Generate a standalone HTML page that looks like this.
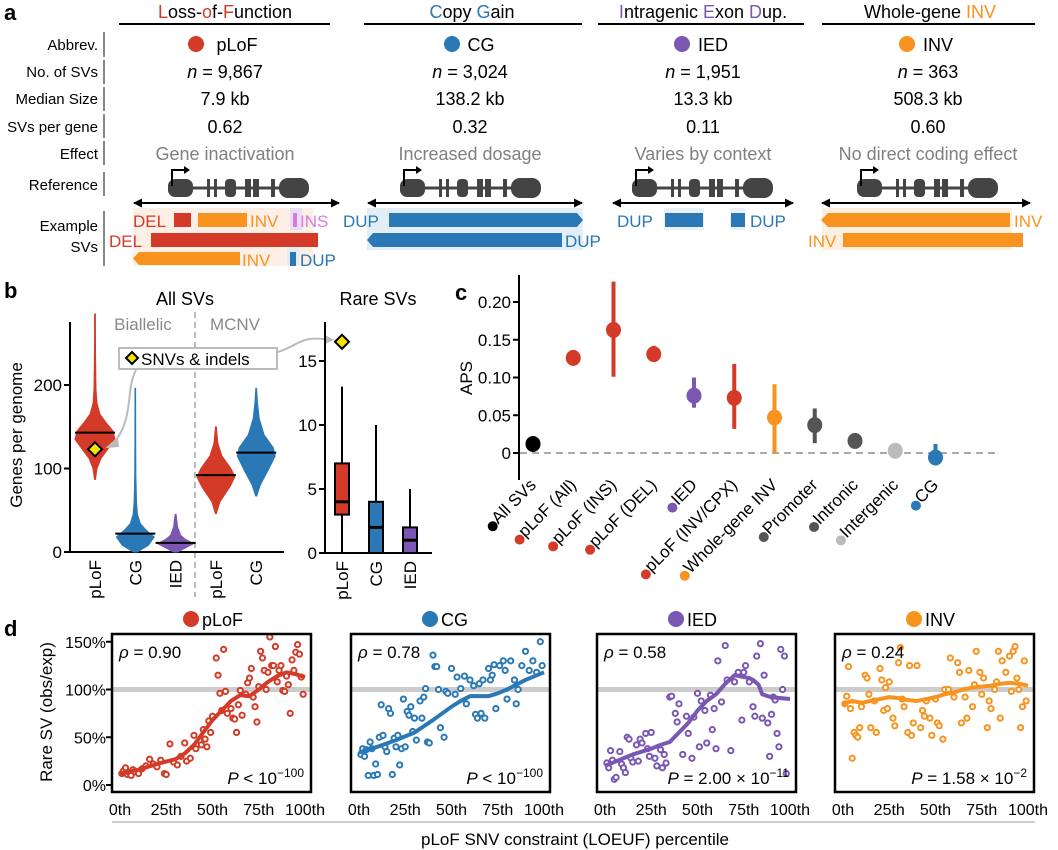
<!DOCTYPE html>
<html><head><meta charset="utf-8"><style>
html,body{margin:0;padding:0;background:#fff;}
svg{display:block;font-family:"Liberation Sans",Arial,sans-serif;}
</style></head><body>
<svg id="fig" width="1058" height="850" viewBox="0 0 1058 850" xmlns="http://www.w3.org/2000/svg">
<g id="panelA">
<text x="4" y="20" font-size="22" font-weight="bold">a</text>
<g font-size="18" text-anchor="middle">
<text x="225" y="18"><tspan fill="#d33b28">L</tspan>oss-<tspan fill="#d33b28">o</tspan>f-<tspan fill="#d33b28">F</tspan>unction</text>
<text x="472" y="18"><tspan fill="#2a78b5">C</tspan>opy <tspan fill="#2a78b5">G</tspan>ain</text>
<text x="703" y="18"><tspan fill="#7957b3">I</tspan>ntragenic <tspan fill="#7957b3">E</tspan>xon <tspan fill="#7957b3">D</tspan>up.</text>
<text x="930" y="18">Whole-gene <tspan fill="#f7931e">INV</tspan></text>
</g>
<g stroke="#000" stroke-width="2">
<line x1="119" y1="24" x2="330" y2="24"/><line x1="364" y1="24" x2="582" y2="24"/><line x1="598" y1="24" x2="804" y2="24"/><line x1="822" y1="24" x2="1035" y2="24"/>
</g>
<g font-size="15" text-anchor="end">
<text x="98" y="50">Abbrev.</text><text x="98" y="77">No. of SVs</text><text x="98" y="104">Median Size</text><text x="98" y="132">SVs per gene</text><text x="98" y="159">Effect</text><text x="98" y="190">Reference</text><text x="98" y="231">Example</text><text x="98" y="252">SVs</text>
</g>
<g stroke="#888" stroke-width="2">
<line x1="104" y1="32" x2="104" y2="57"/><line x1="104" y1="60" x2="104" y2="84"/><line x1="104" y1="87" x2="104" y2="111"/><line x1="104" y1="114" x2="104" y2="138"/><line x1="104" y1="141" x2="104" y2="165"/><line x1="104" y1="172" x2="104" y2="196"/><line x1="104" y1="211" x2="104" y2="266"/>
</g>
<g font-size="18" text-anchor="middle">
<circle cx="196" cy="44" r="8" fill="#d33b28"/><text x="237" y="51">pLoF</text>
<circle cx="452" cy="44" r="8" fill="#2a78b5"/><text x="481" y="51">CG</text>
<circle cx="682" cy="44" r="8" fill="#7957b3"/><text x="713" y="51">IED</text>
<circle cx="907" cy="44" r="8" fill="#f7931e"/><text x="938" y="51">INV</text>
<text x="225" y="78"><tspan font-style="italic">n</tspan> = 9,867</text><text x="470" y="78"><tspan font-style="italic">n</tspan> = 3,024</text><text x="703" y="78"><tspan font-style="italic">n</tspan> = 1,951</text><text x="928" y="78"><tspan font-style="italic">n</tspan> = 363</text>
<text x="225" y="105">7.9 kb</text><text x="470" y="105">138.2 kb</text><text x="703" y="105">13.3 kb</text><text x="928" y="105">508.3 kb</text>
<text x="225" y="133">0.62</text><text x="470" y="133">0.32</text><text x="703" y="133">0.11</text><text x="928" y="133">0.60</text>
<g fill="#808080"><text x="225" y="160">Gene inactivation</text><text x="470" y="160">Increased dosage</text><text x="703" y="160">Varies by context</text><text x="928" y="160">No direct coding effect</text></g>
</g>
<defs>
<g id="gene">
<line x1="0" y1="0" x2="140" y2="0" stroke="#444" stroke-width="3"/>
<rect x="0" y="-9" width="25" height="18" rx="7" fill="#444"/>
<rect x="39" y="-9" width="3" height="18" fill="#444"/><rect x="46" y="-9" width="3" height="18" fill="#444"/>
<rect x="57" y="-9" width="11" height="18" rx="4" fill="#444"/>
<rect x="77" y="-9" width="6" height="18" fill="#444"/><rect x="85" y="-9" width="6" height="18" fill="#444"/>
<rect x="103" y="-9" width="4" height="18" fill="#444"/>
<rect x="111" y="-10" width="30" height="20" rx="9" fill="#444"/>
<path d="M4 -2 V-18 H18" fill="none" stroke="#000" stroke-width="2"/><path d="M16 -22 L22 -18 L16 -14Z" fill="#000"/>
</g>
<marker id="ah" markerUnits="userSpaceOnUse" markerWidth="9" markerHeight="9" refX="8" refY="4.5" orient="auto-start-reverse"><path d="M0 0 L9 4.5 L0 9Z" fill="#000"/></marker>
</defs>
<g>
<use href="#gene" x="168" y="188"/><use href="#gene" x="400" y="188"/><use href="#gene" x="632" y="188"/><use href="#gene" x="857" y="188"/>
<g stroke="#000" stroke-width="2" marker-start="url(#ah)" marker-end="url(#ah)">
<line x1="134" y1="203" x2="339" y2="203"/><line x1="368" y1="203" x2="582" y2="203"/><line x1="613" y1="203" x2="793" y2="203"/><line x1="822" y1="203" x2="1030" y2="203"/>
</g>
</g>
<g font-size="17">
<rect x="133" y="208" width="180" height="58" fill="#fdeee6"/><rect x="290" y="208" width="12" height="22" fill="#eadff5"/><rect x="287" y="247" width="12" height="18" fill="#e2edf6"/>
<text x="133" y="227" fill="#d33b28">DEL</text><rect x="174" y="213" width="17" height="14" fill="#d33b28"/>
<rect x="198" y="213" width="49" height="14" fill="#f7931e"/><text x="250" y="227" fill="#f7931e">INV</text>
<rect x="293" y="213" width="4" height="14" fill="#d77be0"/><text x="300" y="227" fill="#d77be0">INS</text>
<text x="109" y="247" fill="#d33b28">DEL</text><rect x="151" y="233" width="167" height="14" fill="#d33b28"/>
<path d="M133 258.5 L139 252 H240 V265 H139Z" fill="#f7931e"/><text x="242" y="266" fill="#f7931e">INV</text>
<rect x="290" y="252" width="6" height="14" fill="#2a78b5"/><text x="300" y="266" fill="#2a78b5">DUP</text>
<rect x="367" y="208" width="216" height="42" fill="#e3eef7"/>
<text x="343" y="227" fill="#2a78b5">DUP</text><path d="M389 213 H577 L583 220 L577 227 H389Z" fill="#2a78b5"/>
<path d="M367 240 L373 233 H562 V247 H373Z" fill="#2a78b5"/><text x="565" y="247" fill="#2a78b5">DUP</text>
<rect x="664" y="208" width="40" height="22" fill="#e8f0f8"/><rect x="730" y="208" width="15" height="22" fill="#e8f0f8"/>
<text x="617" y="227" fill="#2a78b5">DUP</text><rect x="665" y="213" width="38" height="14" fill="#2a78b5"/>
<rect x="731" y="213" width="14" height="14" fill="#2a78b5"/><text x="750" y="227" fill="#2a78b5">DUP</text>
<rect x="822" y="208" width="190" height="42" fill="#fef0e0"/>
<path d="M821 220 L828 213 H1010 V227 H828Z" fill="#f7931e"/><text x="1014" y="227" fill="#f7931e">INV</text>
<text x="808" y="247" fill="#f7931e">INV</text><rect x="843" y="233" width="180" height="14" fill="#f7931e"/>
</g>
</g>
<g id="panelB"></g>
<g id="panelC"></g>
<g id="panelD"></g>
</svg>
<script>
const NS = 'http://www.w3.org/2000/svg';
function mk(tag, attrs, parent){const e=document.createElementNS(NS,tag);for(const k in attrs)e.setAttribute(k,attrs[k]);parent.appendChild(e);return e;}
const RED='#d33b28',BLUE='#2a78b5',PUR='#7957b3',ORA='#f7931e',DG='#555',LG='#bbb';

/* ---------- Panel B data ---------- */
const violinCats = ['pLoF','CG','IED','pLoF','CG'];
const violinProfiles = [
 [[87,0.5],[100,2],[112,6],[125,14],[135,20],[145,18],[155,11],[165,5],[178,2],[195,1],[240,0.5],[285,0.4]],
 [[0,2],[8,13],[18,19],[26,11],[34,5],[45,2.2],[60,1.2],[90,0.6],[130,0.4],[196,0.3]],
 [[0,2],[5,10],[10,18],[15,10],[20,5],[30,2],[45,0.5]],
 [[46,0.5],[60,4],[78,14],[90,19],[100,15],[115,6],[130,2],[150,0.4]],
 [[67,0.5],[80,4],[98,12],[115,19],[125,17],[140,8],[160,3],[180,1.2],[196,0.4]]
];
const violinMedians = [143,22,11,92,119];
const snvBiallelic = 123;
const boxCats = ['pLoF','CG','IED'];
const boxMin = [0,0,0], boxQ1=[3,0,0], boxMed=[4,2,1], boxQ3=[7,4,2], boxMax=[13,10,5];
const snvRare = 16.5;
const violinTicks = [0,100,200];
const boxTicks = [0,5,10,15];

const B = document.getElementById('panelB');
{
 const t=mk('text',{x:4,y:298,'font-size':22,'font-weight':'bold'},B);t.textContent='b';
 
 
 const vy=v=>552-v*0.835;
 const vx=i=>95+i*40.3;
 const cols=[RED,BLUE,PUR,RED,BLUE];
 const ttl=mk('text',{x:185,y:305,'font-size':18,'text-anchor':'middle'},B);ttl.textContent='All SVs';
 
 
 const t2=mk('text',{x:378,y:305,'font-size':18,'text-anchor':'middle'},B);t2.textContent='Rare SVs';
 
 
 const bi=mk('text',{x:143,y:330,'font-size':17,'text-anchor':'middle',fill:'#888'},B);bi.textContent='Biallelic';
 
 
 const mc=mk('text',{x:235,y:330,'font-size':17,'text-anchor':'middle',fill:'#888'},B);mc.textContent='MCNV';
 
 
 const dv=mk('line',{x1:195,y1:312,x2:195,y2:597,stroke:'#bbb','stroke-width':2,'stroke-dasharray':'6,4'},B);
 
 
 const ax=mk('path',{d:'M70 322 V552 H284',fill:'none',stroke:'#000','stroke-width':2},B);
 
 
 violinTicks.forEach(v=>{
  const l=mk('line',{x1:64,x2:70,y1:vy(v),y2:vy(v),stroke:'#000','stroke-width':2},B);
  
  
  const tx=mk('text',{x:62,y:vy(v)+6,'font-size':17,'text-anchor':'end'},B);tx.textContent=v;
  
  
 });
 const yt=mk('text',{x:0,y:0,'font-size':17,'text-anchor':'middle',transform:'translate(22,435) rotate(-90)'},B);yt.textContent='Genes per genome';
 
 
 violinProfiles.forEach((p,i)=>{
  const cx=vx(i);
  let d='M'+p.map(q=>(cx-q[1])+' '+vy(q[0])).join(' L');
  d+=' L'+p.slice().reverse().map(q=>(cx+q[1])+' '+vy(q[0])).join(' L')+'Z';
  const v=mk('path',{d:d,fill:cols[i],stroke:cols[i],'stroke-width':1},B);
  
  
  const m=mk('line',{x1:cx-20,x2:cx+20,y1:vy(violinMedians[i]),y2:vy(violinMedians[i]),stroke:'#000','stroke-width':2},B);
  
  
  const lb=mk('text',{x:0,y:0,'font-size':17,'text-anchor':'end',transform:`translate(${cx+6},560) rotate(-90)`},B);lb.textContent=violinCats[i];
  
  
 });
 const dm=mk('path',{d:`M${vx(0)} ${vy(snvBiallelic)-7} l7 7 l-7 7 l-7 -7Z`,fill:'#f5e400',stroke:'#000','stroke-width':2},B);
 
 
 const lbx=mk('rect',{x:119,y:348,width:158,height:21,fill:'#fff',stroke:'#bbb','stroke-width':2},B);
 
 
 const ld=mk('path',{d:'M132 352 l6 6 l-6 6 l-6 -6Z',fill:'#f5e400',stroke:'#000','stroke-width':2},B);
 
 
 const lt=mk('text',{x:141,y:365,'font-size':17},B);lt.textContent='SNVs & indels';
 
 
 const a1=mk('path',{d:'M136 370 C125 390,135 420,112 445',fill:'none',stroke:'#bbb','stroke-width':2},B);
 
 
 const a1h=mk('path',{d:'M108 447 l9 -8 l1 7Z',fill:'#bbb',stroke:'#bbb','stroke-width':2},B);
 
 
 const a2=mk('path',{d:'M278 352 C300 345,300 335,330 340',fill:'none',stroke:'#bbb','stroke-width':2},B);
 
 
 const a2h=mk('path',{d:'M334 340 l-9 -5 l0 9Z',fill:'#bbb'},B);
 
 
 const by=v=>553-v*12.8;
 const bx=i=>342+i*34;
 const bcols=[RED,BLUE,PUR];
 const bax=mk('path',{d:'M325 322 V553 H432',fill:'none',stroke:'#000','stroke-width':2},B);
 
 
 boxTicks.forEach(v=>{
  const l=mk('line',{x1:319,x2:325,y1:by(v),y2:by(v),stroke:'#000','stroke-width':2},B);
  
  
  const tx=mk('text',{x:317,y:by(v)+6,'font-size':17,'text-anchor':'end'},B);tx.textContent=v;
  
  
 });
 boxCats.forEach((c,i)=>{
  const cx=bx(i);
  const w=mk('line',{x1:cx,x2:cx,y1:by(boxMax[i]),y2:by(boxMin[i]),stroke:'#000','stroke-width':2},B);
  
  
  const r=mk('rect',{x:cx-7,y:by(boxQ3[i]),width:14,height:by(boxQ1[i])-by(boxQ3[i]),fill:bcols[i],stroke:'#000','stroke-width':2},B);
  
  
  const m=mk('line',{x1:cx-7,x2:cx+7,y1:by(boxMed[i]),y2:by(boxMed[i]),stroke:'#000','stroke-width':3},B);
  
  
  const lb=mk('text',{x:0,y:0,'font-size':17,'text-anchor':'end',transform:`translate(${cx+6},561) rotate(-90)`},B);lb.textContent=c;
  
  
 });
 const d2=mk('path',{d:`M${bx(0)} ${by(snvRare)-7} l7 7 l-7 7 l-7 -7Z`,fill:'#f5e400',stroke:'#000','stroke-width':2},B);
 
 
}

/* ---------- Panel C data ---------- */
const apsCats = ['All SVs','pLoF (All)','pLoF (INS)','pLoF (DEL)','IED','pLoF (INV/CPX)','Whole-gene INV','Promoter','Intronic','Intergenic','CG'];
const apsVals = [0.012,0.126,0.163,0.131,0.076,0.073,0.047,0.037,0.016,0.003,-0.006];
const apsLo = [0.012,0.118,0.101,0.122,0.060,0.032,0.000,0.013,0.016,0.003,-0.016];
const apsHi = [0.012,0.136,0.227,0.142,0.100,0.118,0.091,0.059,0.016,0.003,0.012];
const apsColors = ['#000',RED,RED,RED,PUR,RED,ORA,DG,DG,LG,BLUE];
const apsTicks = [0,0.05,0.10,0.15,0.20];
const apsTickLabels = ['0','0.05','0.10','0.15','0.20'];
const C=document.getElementById('panelC');
{
 const t=mk('text',{x:455,y:300,'font-size':22,'font-weight':'bold'},C);t.textContent='c';
 
 
 const y=v=>453-v*755;
 const x=i=>533+i*40.25;
 const ax=mk('line',{x1:519,x2:519,y1:275,y2:480,stroke:'#000','stroke-width':2},C);
 
 
 const zl=mk('line',{x1:520,x2:1000,y1:y(0),y2:y(0),stroke:'#aaa','stroke-width':2,'stroke-dasharray':'7,5'},C);
 
 
 apsTicks.forEach((v,i)=>{
  const l=mk('line',{x1:513,x2:519,y1:y(v),y2:y(v),stroke:'#000','stroke-width':2},C);
  
  
  const tx=mk('text',{x:511,y:y(v)+6,'font-size':17,'text-anchor':'end'},C);tx.textContent=apsTickLabels[i];
  
  
 });
 const yt=mk('text',{x:0,y:0,'font-size':17,'text-anchor':'middle',transform:'translate(472,378) rotate(-90)'},C);yt.textContent='APS';
 
 
 apsCats.forEach((c,i)=>{
  const col=apsColors[i];
  if(apsHi[i]>apsLo[i]){
   const e=mk('line',{x1:x(i),x2:x(i),y1:y(apsHi[i]),y2:y(apsLo[i]),stroke:col,'stroke-width':4},C);
   
   
  }
  const p=mk('ellipse',{cx:x(i),cy:y(apsVals[i]),rx:7.5,ry:8,fill:col},C);
  
  
  const lb=mk('text',{x:0,y:0,'font-size':17,'text-anchor':'end',transform:`translate(${x(i)+4},486) rotate(-45)`},C);lb.textContent=c;
  
  
  const L=lb.getComputedTextLength()+5;
  const dt=mk('circle',{cx:x(i)+4-L*0.7071-2,cy:486+L*0.7071-2,r:5,fill:col},C);
  
  
 });
}

/* ---------- Panel D data ---------- */
const dTitles=['pLoF','CG','IED','INV'];
const dRho=['0.90','0.78','0.58','0.24'];
const dP=[['< 10','−100'],['< 10','−100'],['= 2.00 × 10','−11'],['= 1.58 × 10','−2']];
const pLoFPtsX=[1,2,3,4,5,6,7,8,10,12,14,16,18,20,22,24,25,27,29,31,33,35,36,38,40,41,43,44,45,46,47,48,49,50,52,53,54,55,56,57,58,60,61,62,63,64,65,66,68,69,70,71,72,73,74,75,76,77,78,79,80,81,82,83,84,85,86,87,88,89,90,91,92,93,94,95,96,97,98,99];
const pLoFPtsY=[12,15,18,11,13,10,16,14,12,17,20,27,22,19,26,12,11,43,24,21,30,44,25,28,52,38,47,42,58,48,40,67,55,72,133,115,96,78,142,98,75,80,70,69,55,84,99,73,95,107,112,122,92,82,66,103,140,133,120,100,118,155,125,125,145,108,120,125,99,98,114,105,75,131,120,139,147,137,113,95];
const pLoFLineX=[0,10,20,30,35,40,45,50,55,60,65,70,75,80,85,90,95,100];
const pLoFLineY=[12,16,22,27,33,42,55,68,78,88,94,93,100,108,114,118,116,113];
const cgPtsX=[1,2,3,4,5,6,7,8,9,10,11,12,13,14,15,16,17,18,19,20,21,22,23,24,25,26,27,28,29,30,31,33,34,35,36,37,38,40,41,42,43,44,46,47,48,50,52,53,55,57,58,60,62,63,64,65,66,67,68,70,71,72,73,74,76,78,79,80,82,84,85,86,88,90,92,94,96,98,99];
const cgPtsY=[32,38,30,37,10,45,38,10,22,11,50,84,52,40,35,80,75,11,49,40,52,21,38,90,40,77,73,82,56,70,47,88,70,92,101,45,44,136,124,124,100,60,50,98,96,122,95,113,101,114,85,110,104,74,70,106,75,110,70,122,110,115,126,80,125,130,120,90,130,110,85,100,125,140,120,130,118,150,125];
const cgLineX=[0,10,20,30,40,50,55,60,70,75,80,90,100];
const cgLineY=[34,40,47,55,68,82,88,93,93,96,100,110,118];
const iedPtsX=[1,2,3,4,5,6,8,9,10,11,12,13,14,15,17,18,19,20,22,23,24,25,27,28,30,31,32,33,35,36,38,39,40,42,44,45,47,48,50,51,52,54,55,57,58,59,60,61,63,65,66,68,70,72,74,75,76,78,80,81,82,84,85,86,88,89,90,91,92,93,94,95,96,97,98];
const iedPtsY=[23,18,36,26,6,8,35,22,18,13,50,48,28,24,42,25,48,44,54,38,30,55,28,20,37,18,32,23,92,93,75,66,85,32,72,54,28,71,96,40,88,78,44,94,58,80,38,130,87,146,110,36,108,118,68,118,125,108,82,72,135,148,70,115,65,30,74,92,89,54,40,142,100,135,12];
const iedLineX=[0,5,10,15,20,25,30,35,40,45,50,55,60,65,70,75,78,80,83,85,88,90,95,100];
const iedLineY=[20,24,28,32,35,38,42,45,55,65,78,88,95,106,115,113,112,110,105,95,93,92,91,90];
const invPtsX=[1,2,3,4,5,6,7,8,9,10,12,13,14,15,17,18,20,21,22,23,24,25,27,28,30,31,32,33,35,36,37,38,40,42,43,44,45,47,48,50,51,52,54,55,57,58,60,62,63,64,66,67,68,70,71,72,74,75,76,78,79,80,82,83,84,85,86,88,90,91,92,93,94,95,96,97,98,99];
const invPtsY=[85,93,124,80,28,55,52,50,60,82,115,112,95,60,88,55,122,110,78,102,80,108,70,62,128,144,90,82,55,125,52,65,125,60,78,72,88,70,52,90,65,62,48,100,100,133,92,128,118,65,92,70,120,82,105,140,118,95,112,60,88,80,100,108,140,70,130,118,135,98,140,145,112,100,60,82,130,88];
const invLineX=[0,5,10,15,20,25,30,35,40,45,50,55,60,65,70,75,80,85,90,95,100];
const invLineY=[85,88,86,88,90,92,91,89,88,90,92,95,97,100,102,103,104,106,107,106,104];
const dPtsX=[pLoFPtsX,cgPtsX,iedPtsX,invPtsX];
const dPtsY=[pLoFPtsY,cgPtsY,iedPtsY,invPtsY];
const dLineX=[pLoFLineX,cgLineX,iedLineX,invLineX];
const dLineY=[pLoFLineY,cgLineY,iedLineY,invLineY];
const dCols=[RED,BLUE,PUR,ORA];
const dYTicks=[0,50,100,150];
const dXTicks=[0,25,50,75,100];
const dXTickLabels=['0th','25th','50th','75th','100th'];
const D=document.getElementById('panelD');
{
 const t=mk('text',{x:4,y:636,'font-size':22,'font-weight':'bold'},D);t.textContent='d';
 
 
 const lefts=[112,351,597,835];
 const y=v=>785-v*0.955;
 dYTicks.forEach(v=>{
  const l=mk('line',{x1:106,x2:112,y1:y(v),y2:y(v),stroke:'#000','stroke-width':2},D);
  
  
  const tx=mk('text',{x:106,y:y(v)+6,'font-size':16,'text-anchor':'end'},D);tx.textContent=v+'%';
  
  
 });
 const yt=mk('text',{x:0,y:0,'font-size':17,'text-anchor':'middle',transform:'translate(52,712) rotate(-90)'},D);yt.textContent='Rare SV (obs/exp)';
 
 
 lefts.forEach((L,k)=>{
  const x=v=>L+8+v*1.85;
  const g=mk('g',{},D);
  
  
  const cp=mk('clipPath',{id:'cp'+k},g);
  mk('rect',{x:L,y:634,width:199,height:158},cp);
  const hl=mk('line',{x1:L,x2:L+199,y1:y(100),y2:y(100),stroke:'#ccc','stroke-width':5},g);
  
  
  const pg=mk('g',{'clip-path':`url(#cp${k})`},g);
  
  
  dPtsX[k].forEach((xv,i)=>{
   const c=mk('circle',{cx:x(xv),cy:y(dPtsY[k][i]),r:2.6,fill:'#fff',stroke:dCols[k],'stroke-width':2},pg);
   
   
  });
  const ln=mk('polyline',{points:dLineX[k].map((xv,i)=>x(xv)+','+y(dLineY[k][i])).join(' '),fill:'none',stroke:dCols[k],'stroke-width':4,'stroke-linejoin':'round'},pg);
  
  
  const bx=mk('rect',{x:L,y:634,width:199,height:158,fill:'none',stroke:'#000','stroke-width':2.5},g);
  
  
  const rho=mk('text',{x:L+7,y:658,'font-size':17},g);rho.innerHTML='<tspan font-style="italic">ρ</tspan> = '+dRho[k];
  
  
  const pt=mk('text',{x:L+192,y:784,'font-size':17,'text-anchor':'end'},g);
  pt.innerHTML='<tspan font-style="italic">P</tspan> '+dP[k][0]+'<tspan font-size="12" dy="-7">'+dP[k][1]+'</tspan>';
  
  
  const tc=mk('circle',{cx:L+79,cy:619,r:8,fill:dCols[k]},g);
  
  
  const tt=mk('text',{x:L+90,y:626,'font-size':18},g);tt.textContent=dTitles[k];
  
  
  dXTicks.forEach((v,i)=>{
   const tx=mk('text',{x:x(v),y:815,'font-size':16,'text-anchor':'middle'},g);tx.textContent=dXTickLabels[i];
   
   
  });
 });
 const bl=mk('line',{x1:112,x2:1035,y1:822,y2:822,stroke:'#ccc','stroke-width':2},D);
 
 
 const xt=mk('text',{x:575,y:845,'font-size':17,'text-anchor':'middle'},D);xt.textContent='pLoF SNV constraint (LOEUF) percentile';
 
 
}
</script>
</body></html>
